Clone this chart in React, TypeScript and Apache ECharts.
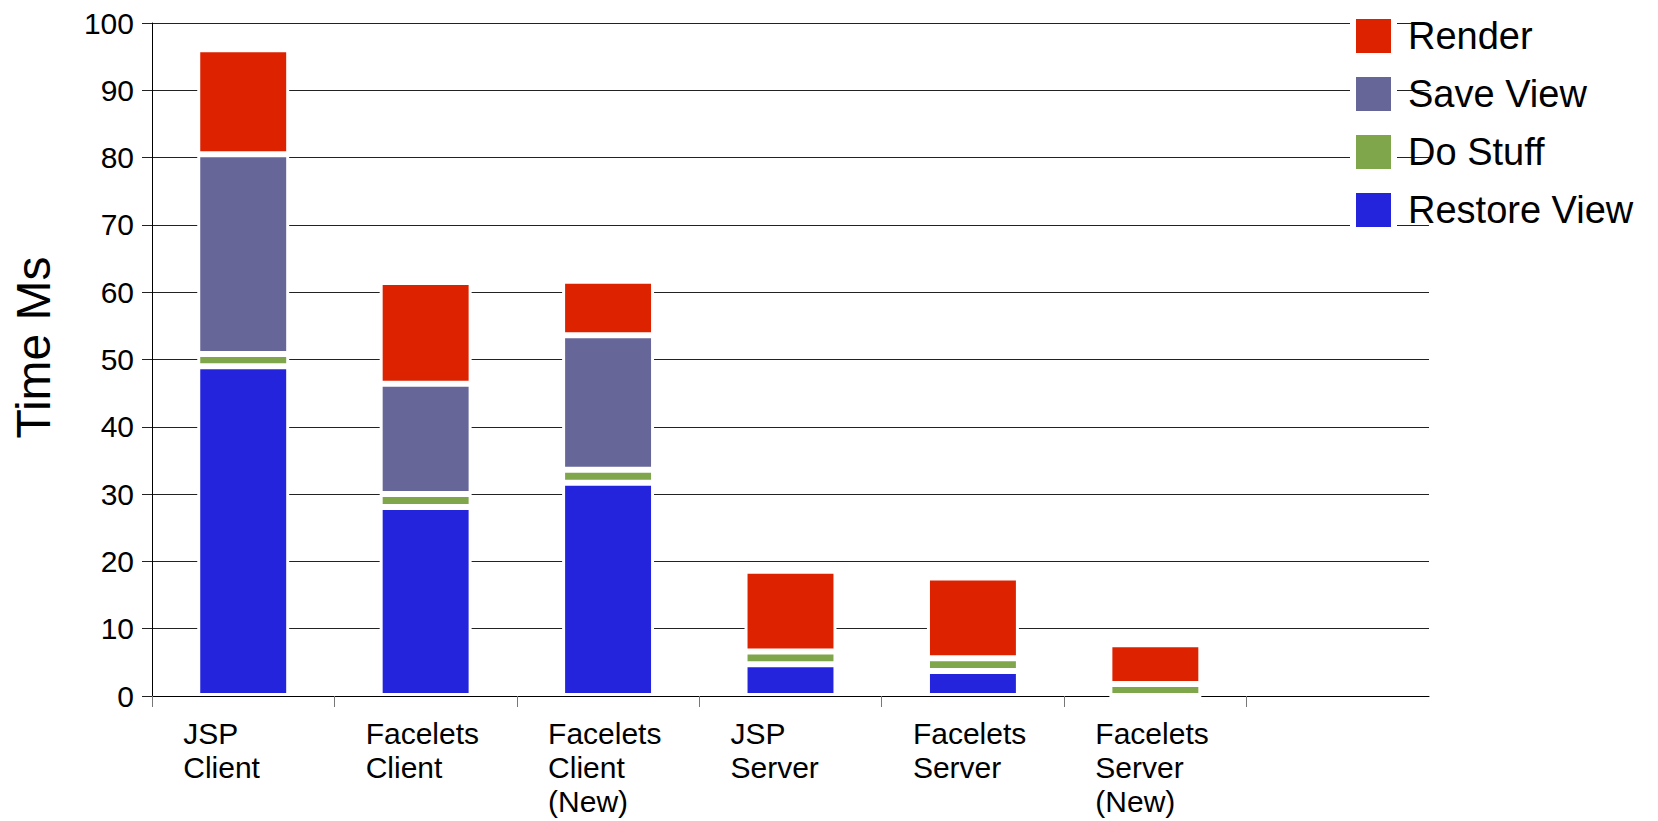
import React, { useEffect, useRef } from 'react';
import * as echarts from 'echarts';

// Request phase timings per view technology (milliseconds)
const categories = [
  'JSP\nClient',
  'Facelets\nClient',
  'Facelets\nClient\n(New)',
  'JSP\nServer',
  'Facelets\nServer',
  'Facelets\nServer\n(New)',
  '',
];
const restoreView = [49.0, 28.1, 31.7, 4.7, 3.7, 0];
const doStuff = [1.8, 1.9, 1.9, 1.9, 1.9, 1.8];
const saveView = [29.7, 16.4, 20.0, 0, 0, 0];
const render = [15.6, 15.1, 8.1, 12.0, 12.0, 5.9];

const legendOrder = ['Render', 'Save View', 'Do Stuff', 'Restore View'];

const colors = {
  render: '#dd2200',
  saveView: '#666699',
  doStuff: '#7fa64a',
  restoreView: '#2424dd',
};

const FONT = '"Liberation Sans", Arial, Helvetica, sans-serif';

export default function App() {
  const ref = useRef<HTMLDivElement>(null);

  useEffect(() => {
    if (!ref.current) return;
    const chart = echarts.init(ref.current, null, { renderer: 'svg' });

    const makeSeries = (name: string, data: number[], color: string) => ({
      name,
      type: 'bar',
      stack: 'total',
      barWidth: '50.4%',
      data,
      // white outline separates the stacked segments
      itemStyle: { color, borderColor: '#ffffff', borderWidth: 3 },
      emphasis: { disabled: true },
    });

    // boundary positions of the category bands, used only for the tick marks
    const boundaries = categories.concat(['']);

    chart.setOption({
      animation: false,
      backgroundColor: '#ffffff',
      textStyle: { fontFamily: FONT },
      grid: { left: 152, right: 229, top: 23, bottom: 125, containLabel: false },
      legend: {
        orient: 'vertical',
        left: 1345,
        top: 8,
        itemWidth: 41,
        itemHeight: 40,
        itemGap: 12,
        icon: 'rect',
        selectedMode: false,
        data: legendOrder,
        itemStyle: { borderColor: '#ffffff', borderWidth: 6 },
        textStyle: {
          fontSize: 38,
          lineHeight: 40,
          color: '#000000',
          fontFamily: FONT,
          padding: [0, 0, 0, 9],
        },
      },
      xAxis: [
        {
          type: 'category',
          data: categories,
          axisLine: { show: true, lineStyle: { color: '#000000', width: 1 } },
          axisTick: { show: false },
          axisLabel: {
            interval: 0,
            align: 'left',
            padding: [0, 0, 0, -60],
            margin: 20,
            fontSize: 30,
            lineHeight: 34,
            color: '#000000',
            fontFamily: FONT,
          },
          splitLine: { show: false },
        },
        {
          type: 'category',
          data: boundaries,
          boundaryGap: false,
          position: 'bottom',
          axisLine: { show: false },
          axisLabel: { show: false },
          splitLine: { show: false },
          axisTick: {
            show: true,
            length: 11,
            interval: (index: number) => index < categories.length,
            lineStyle: { color: '#777777', width: 1 },
          },
        },
      ],
      yAxis: {
        type: 'value',
        min: 0,
        max: 100,
        interval: 10,
        name: 'Time Ms',
        nameLocation: 'middle',
        nameRotate: 90,
        nameGap: 95,
        nameTextStyle: {
          fontSize: 48,
          color: '#000000',
          fontFamily: FONT,
          padding: [0, 0, 0, 24],
        },
        axisLine: { show: true, lineStyle: { color: '#000000', width: 1 } },
        axisTick: { show: true, length: 10, lineStyle: { color: '#222222', width: 1 } },
        axisLabel: { fontSize: 30, color: '#000000', margin: 18, fontFamily: FONT },
        splitLine: { show: true, lineStyle: { color: '#222222', width: 1 } },
      },
      series: [
        makeSeries('Restore View', restoreView, colors.restoreView),
        makeSeries('Do Stuff', doStuff, colors.doStuff),
        makeSeries('Save View', saveView, colors.saveView),
        makeSeries('Render', render, colors.render),
      ],
    });

    return () => chart.dispose();
  }, []);

  return (
    <div
      ref={ref}
      style={{ position: 'fixed', left: 0, top: 0, width: 1658, height: 821, background: '#ffffff' }}
    />
  );
}
